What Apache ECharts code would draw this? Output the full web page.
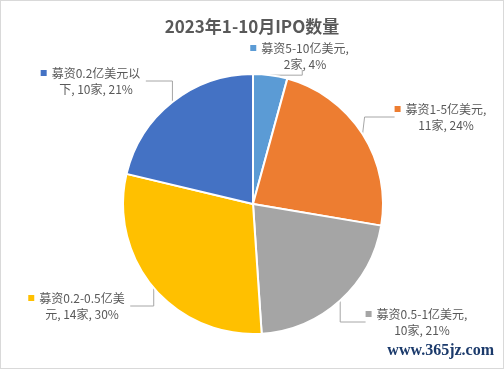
<!DOCTYPE html>
<html><head><meta charset="utf-8">
<script src="https://cdn.jsdelivr.net/npm/echarts@6/dist/echarts.min.js"></script>
<style>
html,body{margin:0;padding:0;background:#fff;}
#c{width:504px;height:369px;box-sizing:border-box;border:1px solid #d9d9d9;}
</style></head>
<body><div id="c"></div>
<script>
const title = '2023年1-10月IPO数量';
const categories = ['募资5-10亿美元', '募资1-5亿美元', '募资0.5-1亿美元', '募资0.2-0.5亿美元', '募资0.2亿美元以下'];
const counts = [2, 11, 10, 14, 10];
const percents = ['4%', '24%', '21%', '30%', '21%'];
const wrapAt = [10, 9, 11, 11, 9];
const colors = ['#5B9BD5', '#ED7D31', '#A5A5A5', '#FFC000', '#4472C4'];
const labelPos = [[304, 55], [445, 116], [421, 321], [81, 305], [95, 80]];

const chart = echarts.init(document.getElementById('c'), null, {renderer: 'canvas'});
const rich = {
  t: {fontSize: 12, color: '#595959', lineHeight: 16, fontFamily: 'Noto Sans CJK SC'},
  g: {width: 5},
  sp: {width: 11}
};
colors.forEach((c, i) => { rich['m' + i] = {width: 6, height: 6, backgroundColor: c}; });

chart.setOption({
  animation: false,
  color: colors,
  title: {
    text: title, left: 'center', top: 12,
    textStyle: {fontSize: 17, fontWeight: 'bold', color: '#595959', fontFamily: 'Noto Sans CJK SC'}
  },
  graphic: [{
    type: 'text', right: 9, top: 342,
    style: {text: 'www.365jz.com', font: 'bold 16px "Liberation Serif", serif', fill: '#1b3a6b'}
  }],
  series: [{
    type: 'pie',
    center: [252, 203],
    radius: 130,
    startAngle: 90,
    clockwise: true,
    data: categories.map((c, i) => ({name: c, value: counts[i]})),
    itemStyle: {borderColor: '#fff', borderWidth: 2},
    label: {
      show: true,
      position: 'outside',
      overflow: 'none',
      alignTo: 'none',
      formatter: (p) => {
        const i = p.dataIndex;
        const full = categories[i] + ', ' + counts[i] + '家, ' + percents[i];
        const l1 = full.slice(0, wrapAt[i]);
        const l2 = full.slice(wrapAt[i]).trim();
        return '{m' + i + '|}{g|}{t|' + l1 + '}{sp|}\n{t|' + l2 + '}';
      },
      rich: rich
    },
    labelLine: {show: true, lineStyle: {color: '#a6a6a6', width: 1}},
    labelLayout: (p) => ({x: labelPos[p.dataIndex][0], y: labelPos[p.dataIndex][1], align: 'center', verticalAlign: 'middle'}),
    emphasis: {disabled: true}
  }]
});
</script></body></html>
